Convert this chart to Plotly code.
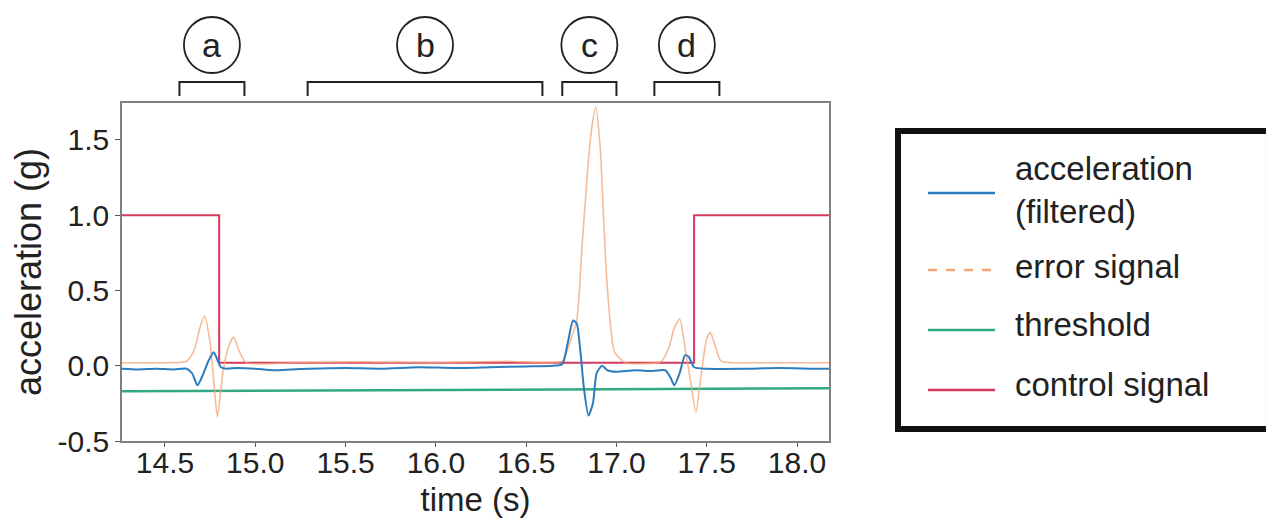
import plotly.graph_objects as go

# ---------------- data ----------------
t_acc = [14.26, 14.35, 14.45, 14.55, 14.62, 14.65, 14.68, 14.71, 14.74, 14.77, 14.79, 14.81,
         14.84, 14.90, 15.00, 15.10, 15.20, 15.30, 15.50, 15.70, 15.90, 16.10, 16.30, 16.50,
         16.65, 16.70, 16.73, 16.76, 16.78, 16.80, 16.82, 16.845, 16.87, 16.89, 16.92, 16.95,
         17.00, 17.10, 17.20, 17.27, 17.30, 17.32, 17.35, 17.38, 17.40, 17.43, 17.50, 17.70,
         17.90, 18.10, 18.18]
acc = [-0.02, -0.025, -0.02, -0.025, -0.02, -0.05, -0.13, -0.06, 0.03, 0.09, 0.04, -0.01,
       -0.02, -0.015, -0.02, -0.03, -0.025, -0.02, -0.015, -0.02, -0.01, -0.015, -0.01, -0.005,
       0.0, 0.01, 0.15, 0.30, 0.28, 0.10, -0.15, -0.33, -0.25, -0.05, 0.0, -0.03,
       -0.04, -0.03, -0.035, -0.03, -0.08, -0.13, -0.05, 0.07, 0.06, -0.01, -0.02, -0.02,
       -0.015, -0.02, -0.02]

t_err = [14.26, 14.50, 14.62, 14.66, 14.70, 14.72, 14.75, 14.77, 14.79, 14.82, 14.85, 14.88,
         14.91, 14.95, 15.20, 15.60, 16.00, 16.40, 16.70, 16.74, 16.78, 16.81, 16.84, 16.86,
         16.885, 16.91, 16.93, 16.95, 16.99, 17.05, 17.25, 17.29, 17.32, 17.35, 17.38, 17.41,
         17.44, 17.47, 17.50, 17.52, 17.55, 17.58, 17.80, 18.18]
err = [0.02, 0.02, 0.03, 0.10, 0.28, 0.33, 0.15, -0.10, -0.34, -0.05, 0.12, 0.19,
       0.10, 0.02, 0.02, 0.025, 0.02, 0.03, 0.03, 0.15, 0.30, 0.80, 1.29, 1.55,
       1.72, 1.45, 0.95, 0.51, 0.09, 0.02, 0.03, 0.12, 0.25, 0.31, 0.12, -0.10,
       -0.31, -0.05, 0.18, 0.22, 0.12, 0.03, 0.02, 0.02]

t_thr = [14.26, 18.18]
thr = [-0.17, -0.15]

t_ctrl = [14.26, 14.80, 17.43, 18.18]
ctrl = [1.0, 0.02, 1.0, 1.0]

series_names = ["acceleration<br>(filtered)", "error signal", "threshold", "control signal"]
series_colors = ["#2a7dbf", "#f3a677", "#33a97f", "#d33a5c"]

region_labels = ["a", "b", "c", "d"]
region_start = [14.58, 15.29, 16.70, 17.21]
region_end = [14.94, 16.59, 17.00, 17.57]

x_ticks = [14.5, 15.0, 15.5, 16.0, 16.5, 17.0, 17.5, 18.0]
x_ticktext = ["14.5", "15.0", "15.5", "16.0", "16.5", "17.0", "17.5", "18.0"]
y_ticks = [-0.5, 0.0, 0.5, 1.0, 1.5]
y_ticktext = ["-0.5", "0.0", "0.5", "1.0", "1.5"]

# ---------------- figure ----------------
FONT = "Liberation Sans, Arial, sans-serif"
fig = go.Figure()

fig.add_trace(go.Scatter(x=t_thr, y=thr, mode="lines", name=series_names[2],
                         line=dict(color=series_colors[2], width=2.5), showlegend=False))
fig.add_trace(go.Scatter(x=t_ctrl, y=ctrl, mode="lines", name=series_names[3],
                         line=dict(color=series_colors[3], width=2, shape="hv"), showlegend=False))
fig.add_trace(go.Scatter(x=t_err, y=err, mode="lines", name=series_names[1],
                         line=dict(color=series_colors[1], width=1.6, shape="spline", smoothing=0.6),
                         opacity=0.75, showlegend=False))
fig.add_trace(go.Scatter(x=t_acc, y=acc, mode="lines", name=series_names[0],
                         line=dict(color=series_colors[0], width=2, shape="spline", smoothing=0.6),
                         showlegend=False))

shapes = []
annotations = []

# region brackets and circled labels
y_br_top = 1.062
y_br_bot = 1.021
y_circ = 1.1716
for lab, s, e in zip(region_labels, region_start, region_end):
    shapes.append(dict(type="path", xref="x", yref="paper",
                       path=f"M {s},{y_br_bot} L {s},{y_br_top} L {e},{y_br_top} L {e},{y_br_bot}",
                       line=dict(color="#222", width=2)))
    mid = (s + e) / 2
    shapes.append(dict(type="circle", xref="x", yref="paper", xsizemode="pixel", ysizemode="pixel",
                       xanchor=mid, yanchor=y_circ, x0=-28, x1=28, y0=-28, y1=28,
                       line=dict(color="#222", width=1.8)))
    annotations.append(dict(x=mid, y=y_circ, xref="x", yref="paper", text=lab, showarrow=False,
                            xanchor="center", yanchor="middle",
                            font=dict(family=FONT, size=34, color="#222")))

# legend box (manual)
shapes.append(dict(type="rect", xref="paper", yref="paper", x0=1.0976, x1=1.6223, y0=0.0355, y1=0.9172,
                   line=dict(color="#111", width=6), fillcolor="rgba(0,0,0,0)"))
leg_line_y = [0.7337, 0.5059, 0.3284, 0.1509]
leg_text_y = [0.742, 0.515, 0.345, 0.166]
leg_dash = ["solid", "dash", "solid", "solid"]
for name, col, ly, ty, dsh in zip(series_names, series_colors, leg_line_y, leg_text_y, leg_dash):
    shapes.append(dict(type="line", xref="paper", yref="paper", x0=1.140, x1=1.2348, y0=ly, y1=ly,
                       line=dict(color=col, width=2.5, dash=dsh)))
    annotations.append(dict(x=1.2603, y=ty, xref="paper", yref="paper", text=name, showarrow=False,
                            xanchor="left", yanchor="middle", align="left",
                            font=dict(family=FONT, size=33, color="#222")))

fig.update_layout(
    width=1274, height=525,
    margin=dict(l=114, r=453, t=95, b=92),
    paper_bgcolor="white", plot_bgcolor="white",
    showlegend=False,
    font=dict(family=FONT, size=30, color="#222"),
    shapes=shapes, annotations=annotations,
)
fig.update_xaxes(range=[14.262, 18.177], tickvals=x_ticks, ticktext=x_ticktext,
                 showgrid=False, zeroline=False, showline=True, mirror=True,
                 linecolor="#808080", linewidth=1.5, ticks="outside", ticklen=4, tickcolor="#555",
                 ticklabelstandoff=-10,
                 tickfont=dict(size=30), title=dict(text="time (s)", font=dict(size=33), standoff=10),
                 automargin=False)
fig.update_yaxes(range=[-0.5, 1.745], tickvals=y_ticks, ticktext=y_ticktext,
                 showgrid=False, zeroline=False, showline=True, mirror=True,
                 linecolor="#808080", linewidth=1.5, ticks="outside", ticklen=5, tickcolor="#555",
                 tickfont=dict(size=30), title=dict(text="acceleration (g)", font=dict(size=36), standoff=6),
                 automargin=False)

fig.write_html("out.html")
